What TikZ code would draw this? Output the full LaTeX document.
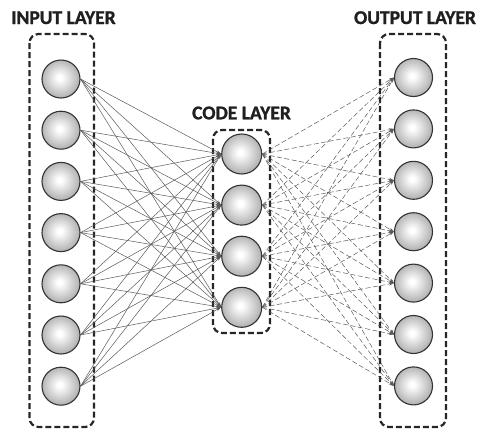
\documentclass[tikz,border=0pt]{standalone}
\usepackage{fontspec}
\setmainfont{Carlito}
\newfontfamily\titlefont{Carlito Bold}[FakeBold=1.2]
\usetikzlibrary{arrows.meta}
\pgfdeclareradialshading{nodeball}{\pgfpoint{-2bp}{2bp}}{color(0bp)=(white); color(3bp)=(white); color(25bp)=(black!30); color(50bp)=(black!30)}
\begin{document}
\begin{tikzpicture}[x=1pt,y=-1pt,
  neuron/.style={circle, draw=black!80, line width=1.1pt, minimum size=38pt, inner sep=0pt, shading=nodeball},
  codeneuron/.style={neuron, minimum size=40pt},
  layerbox/.style={draw=black!85, line width=2.2pt, dash pattern=on 6pt off 3pt, rounded corners=9pt},
  enc/.style={draw=black!65, line width=0.5pt, -{Stealth[length=5pt,width=3pt]}},
  dec/.style={draw=black!65, line width=0.5pt, dash pattern=on 5pt off 2.5pt, -{Stealth[length=5pt,width=3pt]}},
  title/.style={font=\titlefont\fontsize{19.5}{22}\selectfont, text=black!88, anchor=base, inner sep=0pt}]
\useasboundingbox (0,0) rectangle (478,429);
% boxes
\draw[layerbox] (29.5,34) rectangle (94,427);
\draw[layerbox] (213,130) rectangle (270,333);
\draw[layerbox] (380,34) rectangle (446,427);
% titles
\node[title] (tin) at (63.5,24) {INPUT LAYER};
\node[title] (tcode) at (241.5,119.3) {CODE LAYER};
\node[title] (tout) at (415,24) {OUTPUT LAYER};
% neurons
\foreach \i in {1,...,7} {
  \node[neuron] (in\i) at (61,{79+51.2*(\i-1)}) {};
  \node[neuron] (out\i) at (413.5,{77.5+51.4*(\i-1)}) {};
}
\foreach \j in {1,...,4} {
  \node[codeneuron] (c\j) at (241.7,{154+51.1*(\j-1)}) {};
}
% connections
\foreach \i in {1,...,7} {
  \foreach \j in {1,...,4} {
    \draw[enc] (in\i.east) -- (c\j.west);
    \draw[dec] (c\j.east) -- (out\i.west);
  }
}
\end{tikzpicture}
\end{document}
